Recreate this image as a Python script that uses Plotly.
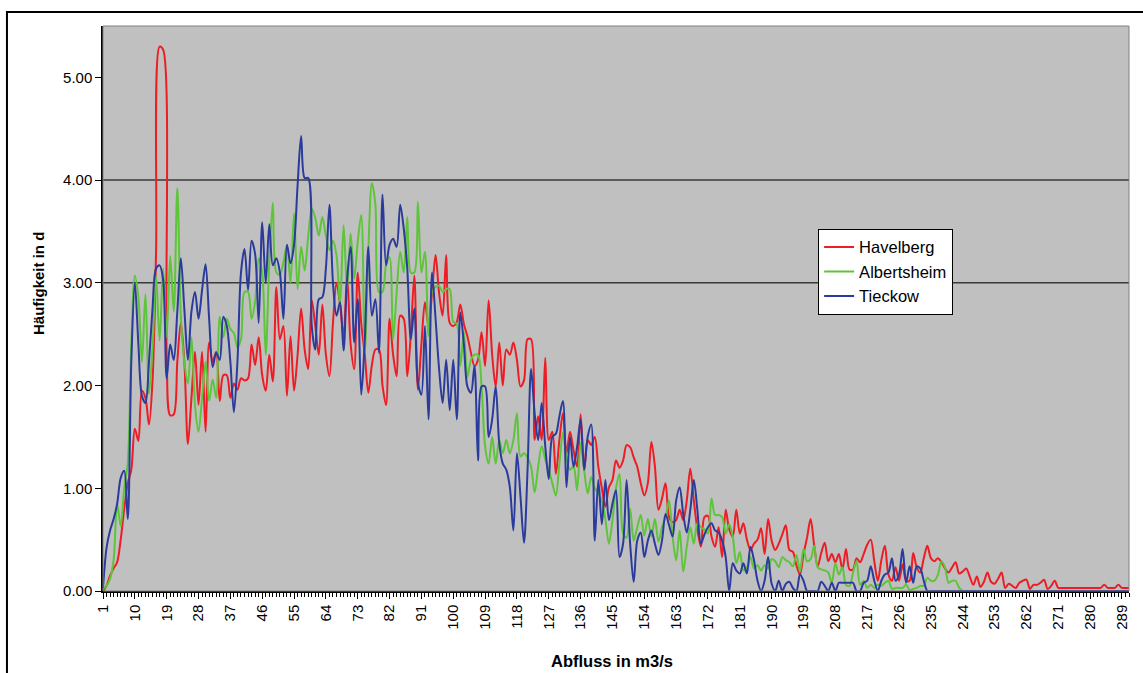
import plotly.graph_objects as go

# Abfluss classes (m3/s), one per category
abfluss = list(range(1, 292))

havelberg = [
    0.00, 0.05, 0.15, 0.22, 0.28, 0.50, 0.80, 1.05, 1.18, 1.58,
    1.46, 1.95, 1.88, 1.62, 2.05, 3.30, 5.30, 5.27, 2.30, 1.71,
    1.72, 2.23, 2.61, 2.23, 1.43, 1.88, 2.33, 1.81, 2.33, 1.55,
    2.42, 2.23, 2.33, 1.85, 2.10, 2.10, 1.88, 2.02, 1.96, 2.07,
    2.05, 2.07, 2.40, 2.20, 2.47, 2.10, 1.95, 2.30, 2.04, 2.96,
    2.45, 2.58, 1.90, 2.48, 1.95, 2.30, 2.75, 2.35, 2.16, 2.83,
    2.58, 2.30, 2.79, 2.30, 2.09, 2.61, 3.00, 2.79, 2.48, 3.07,
    2.40, 2.16, 3.10, 2.60, 2.30, 1.93, 2.20, 2.35, 2.35, 2.00,
    1.81, 2.65, 2.30, 2.09, 2.68, 2.65, 2.09, 2.50, 3.07, 1.96,
    2.40, 2.81, 2.58, 2.90, 3.27, 2.90, 2.68, 3.27, 2.61, 2.58,
    2.62, 2.79, 2.60, 2.48, 2.32, 2.19, 2.25, 2.52, 2.19, 2.83,
    2.30, 1.99, 2.42, 2.00, 2.35, 2.30, 2.42, 2.25, 1.99, 2.05,
    2.45, 2.45, 1.47, 1.70, 1.47, 2.27, 1.47, 1.55, 1.14, 1.47,
    1.73, 1.34, 1.55, 1.37, 1.21, 1.72, 1.17, 1.47, 1.42, 1.50,
    1.21, 1.00, 0.82, 1.01, 1.08, 1.27, 1.20, 1.27, 1.42, 1.40,
    1.30, 1.21, 1.05, 0.93, 1.05, 1.45, 1.21, 0.79, 0.90, 1.05,
    0.72, 0.67, 0.69, 0.79, 0.69, 0.88, 1.19, 0.88, 0.60, 0.43,
    0.72, 0.73, 0.53, 0.43, 0.62, 0.33, 0.79, 0.60, 0.53, 0.79,
    0.56, 0.66, 0.50, 0.40, 0.46, 0.50, 0.61, 0.36, 0.70, 0.49,
    0.40, 0.46, 0.55, 0.64, 0.40, 0.38, 0.25, 0.16, 0.36, 0.52,
    0.70, 0.45, 0.24, 0.37, 0.47, 0.29, 0.36, 0.28, 0.36, 0.21,
    0.41, 0.21, 0.21, 0.32, 0.28, 0.36, 0.45, 0.50, 0.29, 0.10,
    0.30, 0.44, 0.16, 0.10, 0.23, 0.10, 0.26, 0.10, 0.10, 0.37,
    0.23, 0.18, 0.32, 0.44, 0.32, 0.29, 0.32, 0.28, 0.22, 0.18,
    0.23, 0.28, 0.17, 0.19, 0.22, 0.14, 0.06, 0.14, 0.04, 0.09,
    0.18, 0.09, 0.07, 0.12, 0.18, 0.03, 0.07, 0.05, 0.03, 0.08,
    0.10, 0.11, 0.02, 0.06, 0.06, 0.08, 0.11, 0.02, 0.05, 0.10,
    0.03, 0.03, 0.03, 0.03, 0.03, 0.03, 0.03, 0.03, 0.03, 0.03,
    0.03, 0.03, 0.03, 0.06, 0.03, 0.03, 0.03, 0.06, 0.03, 0.03,
    0.03,
]

albertsheim = [
    0.02, 0.05, 0.12, 0.30, 0.85, 0.63, 1.00, 1.25, 2.40, 3.07,
    2.86, 2.23, 2.89, 1.92, 2.37, 3.07, 2.44, 3.14, 2.47, 3.26,
    2.72, 3.92, 2.68, 2.23, 2.02, 2.47, 1.81, 1.55, 1.88, 2.23,
    1.85, 2.06, 1.88, 2.67, 2.47, 2.65, 2.55, 2.51, 2.37, 2.45,
    2.91, 2.91, 2.65, 2.82, 3.24, 3.10, 2.30, 3.20, 3.78, 3.10,
    3.08, 3.20, 3.37, 3.00, 3.68, 2.94, 3.35, 3.12, 3.45, 3.72,
    3.63, 3.46, 3.64, 3.46, 3.32, 3.41, 3.27, 2.78, 3.56, 2.94,
    3.48, 3.04, 3.40, 3.66, 2.32, 3.32, 3.97, 3.76, 2.91, 2.91,
    3.17, 3.25, 2.45, 2.91, 3.30, 3.10, 3.64, 3.10, 3.10, 3.79,
    3.10, 3.30, 2.48, 2.91, 2.96, 2.97, 2.91, 2.94, 2.94, 2.62,
    2.60, 2.19, 2.52, 2.08, 2.25, 2.30, 2.30, 1.99, 1.41, 1.24,
    1.50, 1.24, 1.47, 1.34, 1.47, 1.34, 1.47, 1.73, 1.31, 1.34,
    1.30, 1.21, 0.96, 1.21, 1.41, 1.28, 1.18, 1.05, 0.93, 1.24,
    1.54, 1.30, 1.18, 1.21, 0.98, 1.44, 1.18, 0.95, 1.11, 1.00,
    0.95, 0.88, 0.70, 0.46, 0.69, 1.00, 1.14, 0.56, 0.52, 0.80,
    0.49, 0.62, 0.74, 0.54, 0.70, 0.53, 0.70, 0.48, 0.62, 0.72,
    0.88, 0.53, 0.30, 0.59, 0.19, 0.43, 0.62, 0.46, 0.66, 0.62,
    0.60, 0.56, 0.90, 0.74, 0.74, 0.72, 0.56, 0.65, 0.53, 0.27,
    0.38, 0.20, 0.23, 0.33, 0.22, 0.25, 0.20, 0.25, 0.22, 0.31,
    0.29, 0.23, 0.33, 0.30, 0.28, 0.24, 0.35, 0.19, 0.41, 0.29,
    0.31, 0.44, 0.23, 0.21, 0.20, 0.18, 0.08, 0.27, 0.16, 0.23,
    0.06, 0.05, 0.18, 0.29, 0.06, 0.10, 0.03, 0.06, 0.03, 0.06,
    0.05, 0.08, 0.10, 0.02, 0.03, 0.03, 0.03, 0.06, 0.01, 0.02,
    0.03, 0.05, 0.05, 0.13, 0.10, 0.10, 0.16, 0.29, 0.23, 0.08,
    0.10, 0.10, 0.03, 0.00,
]

tieckow = [
    0.03, 0.42, 0.59, 0.70, 0.85, 1.10, 1.17, 0.70, 2.23, 3.00,
    2.40, 1.90, 1.83, 2.23, 2.75, 3.14, 3.17, 3.03, 2.07, 2.40,
    2.25, 2.72, 3.24, 2.74, 2.25, 2.72, 2.91, 2.65, 2.93, 3.18,
    2.65, 2.18, 2.32, 2.25, 2.67, 2.58, 2.23, 1.74, 2.23, 3.10,
    3.33, 2.93, 3.41, 3.28, 2.61, 3.59, 3.00, 3.57, 3.17, 3.24,
    3.10, 2.65, 3.37, 3.19, 3.37, 3.95, 4.43, 4.02, 4.02, 2.58,
    2.35, 2.84, 2.86, 3.14, 3.76, 3.00, 2.68, 2.81, 2.34, 3.04,
    3.35, 2.42, 2.84, 1.91, 2.45, 3.35, 2.68, 2.84, 2.32, 3.86,
    3.17, 3.37, 3.43, 3.35, 3.76, 3.53, 3.14, 2.45, 2.75, 2.03,
    1.91, 2.58, 1.67, 3.10, 2.65, 2.16, 1.83, 2.25, 1.76, 2.25,
    1.67, 2.71, 2.40, 1.99, 1.93, 2.19, 1.27, 1.99, 1.99, 1.50,
    1.67, 1.99, 1.44, 1.24, 1.18, 1.01, 0.59, 1.34, 0.92, 0.47,
    1.18, 2.16, 1.73, 1.47, 1.83, 1.41, 1.09, 1.50, 1.53, 1.70,
    1.85, 1.01, 1.50, 1.21, 1.40, 1.67, 1.18, 1.50, 1.62, 0.49,
    1.08, 0.65, 1.08, 0.69, 0.85, 0.98, 0.33, 0.46, 1.08, 0.46,
    0.09, 0.49, 0.57, 0.33, 0.49, 0.59, 0.46, 0.35, 0.49, 0.75,
    0.64, 0.53, 0.88, 1.01, 0.75, 0.57, 0.79, 1.08, 0.79, 0.46,
    0.55, 0.62, 0.66, 0.59, 0.57, 0.49, 0.33, 0.00, 0.27, 0.20,
    0.17, 0.27, 0.17, 0.43, 0.30, 0.10, 0.00, 0.10, 0.33, 0.07,
    0.00, 0.10, 0.00, 0.07, 0.09, 0.03, 0.00, 0.16, 0.10, 0.00,
    0.00, 0.00, 0.00, 0.09, 0.05, 0.00, 0.08, 0.00, 0.08, 0.08,
    0.08, 0.08, 0.08, 0.00, 0.00, 0.08, 0.10, 0.24, 0.10, 0.00,
    0.10, 0.16, 0.18, 0.32, 0.10, 0.16, 0.41, 0.08, 0.24, 0.08,
    0.24, 0.22, 0.10, 0.00, 0.00, 0.00, 0.00, 0.00, 0.00, 0.00,
    0.00, 0.00, 0.00, 0.00, 0.00, 0.00, 0.00, 0.00, 0.00, 0.00,
    0.00, 0.00, 0.00, 0.00, 0.00, 0.00, 0.00, 0.00, 0.00, 0.00,
    0.00, 0.00, 0.00, 0.00, 0.00, 0.00, 0.00, 0.00, 0.00, 0.00,
    0.00, 0.00, 0.00, 0.00, 0.00, 0.00, 0.00, 0.00, 0.00, 0.00,
    0.00, 0.00, 0.00, 0.00, 0.00, 0.00, 0.00, 0.00, 0.00, 0.00,
    0.00,
]

x_tick_labels = list(range(1, 292, 9))
y_ticks = [0, 1, 2, 3, 4, 5]
grid_levels = [3, 4]

series = [
    ("Havelberg", havelberg, "#EE1C24"),
    ("Albertsheim", albertsheim, "#5EC43A"),
    ("Tieckow", tieckow, "#2A3B9C"),
]

FONT = "Arial, Liberation Sans, sans-serif"

fig = go.Figure()
for name, values, color in series:
    fig.add_trace(go.Scatter(
        x=abfluss[:len(values)], y=values, name=name, mode="lines",
        line=dict(color=color, width=2, shape="spline", smoothing=0.9),
    ))

shapes = []
# horizontal reference lines
for lvl in grid_levels:
    shapes.append(dict(type="line", xref="paper", yref="y", x0=0, x1=1,
                       y0=lvl, y1=lvl, line=dict(color="#3a3a3a", width=1.5),
                       layer="below"))
# plot area frame
shapes.append(dict(type="rect", xref="paper", yref="paper", x0=0, x1=1, y0=0, y1=1,
                   line=dict(color="#808080", width=1), layer="above"))
# outer chart frame
shapes.append(dict(type="rect", xref="paper", yref="paper",
                   x0=-0.0936, x1=1.03, y0=-0.16, y1=1.0248,
                   line=dict(color="black", width=2), layer="above"))

fig.update_layout(
    width=1143, height=673,
    margin=dict(l=103, r=14, t=26, b=82),
    paper_bgcolor="white",
    plot_bgcolor="#C0C0C0",
    font=dict(family=FONT, size=15, color="black"),
    showlegend=True,
    legend=dict(x=0.697, y=0.641, xanchor="left", yanchor="top",
                bgcolor="white", bordercolor="black", borderwidth=1,
                font=dict(size=16.5), tracegroupgap=0, itemwidth=30),
    shapes=shapes,
    xaxis=dict(
        range=[1, 291], showgrid=False, zeroline=False,
        tickmode="array", tickvals=x_tick_labels,
        ticktext=[str(v) for v in x_tick_labels],
        tickangle=-90, ticks="outside", ticklen=6, tickcolor="black",
        showline=True, linecolor="black", linewidth=1.5,
        tickfont=dict(size=15),
        minor=dict(dtick=1, tick0=1, ticks="outside", ticklen=4,
                   tickcolor="black", showgrid=False),
    ),
    yaxis=dict(
        range=[0, 5.5], showgrid=False, zeroline=False,
        tickmode="array", tickvals=y_ticks,
        ticktext=[f"{v:.2f}" for v in y_ticks],
        ticks="outside", ticklen=6, tickcolor="black",
        showline=True, linecolor="black", linewidth=1.5,
        tickfont=dict(size=15),
    ),
    annotations=[
        dict(text="<b>Häufigkeit in d</b>", xref="paper", yref="paper",
             x=-0.0634, y=0.545, textangle=-90, showarrow=False,
             font=dict(size=15), xanchor="center", yanchor="middle"),
        dict(text="<b>Abfluss in m3/s</b>", xref="paper", yref="paper",
             x=0.496, y=-0.124, showarrow=False,
             font=dict(size=16.5), xanchor="center", yanchor="middle"),
    ],
)

fig.write_html("out.html")
